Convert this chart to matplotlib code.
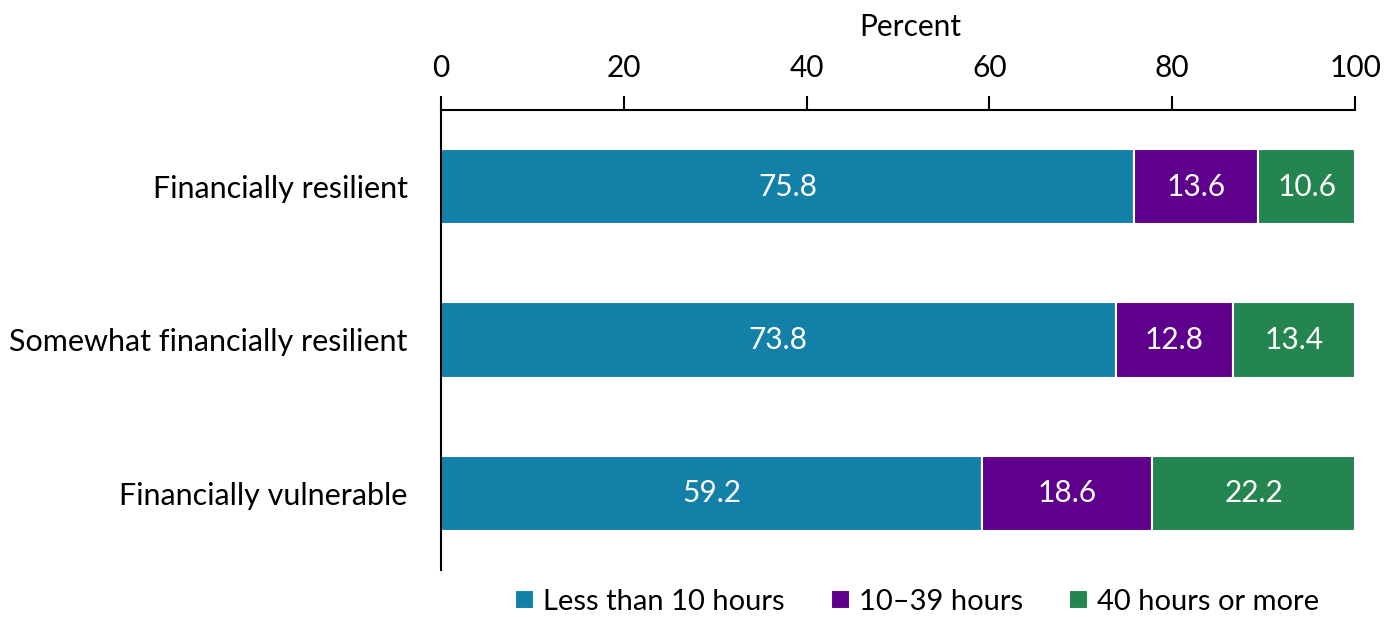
import matplotlib.pyplot as plt
import numpy as np

plt.rcParams['font.family'] = ['Lato', 'DejaVu Sans']

groups = ['Financially resilient', 'Somewhat financially resilient', 'Financially vulnerable']
series_names = ['Less than 10 hours', '10\u201339 hours', '40 hours or more']
less_10 = [75.8, 73.8, 59.2]
h10_39 = [13.6, 12.8, 18.6]
h40_more = [10.6, 13.4, 22.2]
colors = ['#1380a8', '#5e008c', '#248550']

fig = plt.figure(figsize=(13.84, 6.17), dpi=100)
ax = fig.add_axes([441 / 1384, 1 - 570 / 617, (1355 - 441) / 1384, (570 - 110) / 617])

y = np.arange(len(groups))
left = np.zeros(len(groups))
for vals, name, c in zip([less_10, h10_39, h40_more], series_names, colors):
    bars = ax.barh(y, vals, left=left, height=0.49, color=c, edgecolor='white',
                   linewidth=1.5, label=name)
    for b, v in zip(bars, vals):
        ax.text(b.get_x() + b.get_width() / 2, b.get_y() + b.get_height() / 2,
                f'{v:.1f}', ha='center', va='center', color='white', fontsize=21.5)
    left += np.array(vals)

ax.set_xlim(0, 100)
ax.set_ylim(2.5, -0.5)
ax.set_yticks(y)
ax.set_yticklabels(groups, fontsize=22)
ax.tick_params(axis='y', length=0, pad=24)
ax.xaxis.tick_top()
ax.xaxis.set_label_position('top')
ax.set_xticks([0, 20, 40, 60, 80, 100])
ax.tick_params(axis='x', direction='out', length=10, width=1.5, labelsize=21.5, pad=10)
ax.set_xlabel('Percent', fontsize=21.5)
ax.xaxis.set_label_coords(0.513, 1.16)

for s in ['right', 'bottom']:
    ax.spines[s].set_visible(False)
for s in ['top', 'left']:
    ax.spines[s].set_linewidth(1.5)

fig.legend(loc='center', bbox_to_anchor=(917 / 1384, 1 - 602 / 617), ncol=3,
           frameon=False, fontsize=21, handlelength=0.65, handleheight=0.65,
           handletextpad=0.3, columnspacing=1.6, borderpad=0.1)

fig.savefig('out.png', dpi=100)
